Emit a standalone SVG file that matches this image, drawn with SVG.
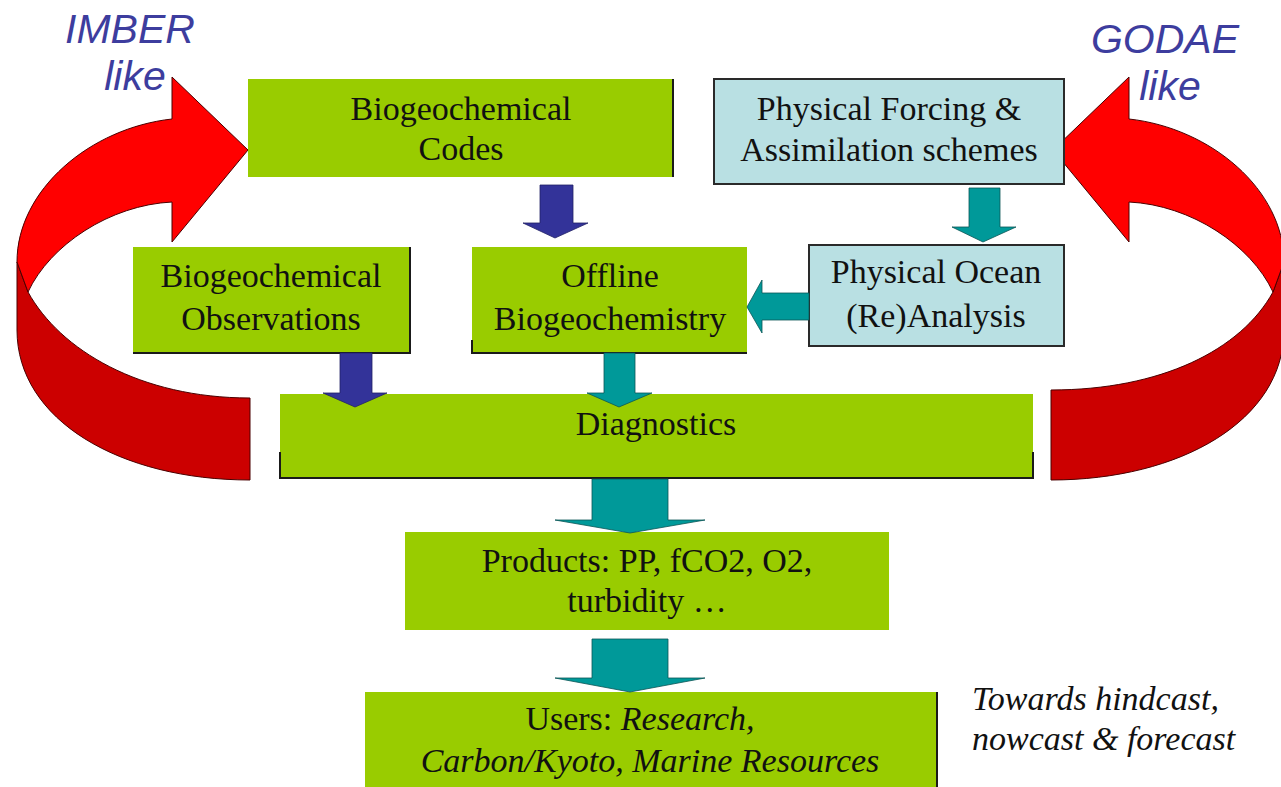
<svg xmlns="http://www.w3.org/2000/svg" width="1281" height="787" viewBox="0 0 1281 787">
<style>
.lbl{font-family:"Liberation Serif","Times New Roman",serif;font-size:34px;fill:#111;text-anchor:middle}
.it{font-style:italic}
.side{font-family:"Liberation Sans",Arial,sans-serif;font-style:italic;font-size:41px;fill:#3d3d9e;text-anchor:middle}
.green{fill:#99cc00}
.blue{fill:#b9e0e3;stroke:#2a2a2a;stroke-width:2}
.edge{fill:none;stroke:#1a1a1a;stroke-width:2}
.ablue{fill:#333399;stroke:#222266;stroke-width:0.8}
.ateal{fill:#009999;stroke:#0b5555;stroke-width:0.8}
.rb{fill:#ff0000;stroke:#4a0000;stroke-width:1}
.rd{fill:#cc0000;stroke:#4a0000;stroke-width:1}
</style>
<rect width="1281" height="787" fill="#ffffff"/>

<g id="loop-imber">
<path class="rd" d="M17,262 L28,292 C60,350 140,398 250,398 L250,480 C120,480 17,420 17,330 Z"/>
<path class="rb" d="M172,119 L172,77 L248,150 L172,242 L172,202 C110,205 50,245 28,292 L17,262 C17,190 90,128 172,119 Z"/>
</g>
<g id="loop-godae">
<path class="rd" d="M1284,262 L1273,292 C1241,350 1161,390 1051,390 L1051,480 C1181,480 1284,420 1284,330 Z"/>
<path class="rb" d="M1129,119 L1129,77 L1053,150 L1129,242 L1129,202 C1191,205 1251,245 1273,292 L1284,262 C1284,190 1211,128 1129,119 Z"/>
</g>

<g id="label-imber">
<text class="side" x="130" y="43">IMBER</text>
<text class="side" x="135" y="90">like</text>
</g>
<g id="label-godae">
<text class="side" x="1165" y="53">GODAE</text>
<text class="side" x="1170" y="100">like</text>
</g>

<g id="node-codes">
<rect class="green" x="248" y="79" width="425" height="98"/>
<path class="edge" d="M673,79 V177"/>
<text class="lbl" x="461" y="120">Biogeochemical</text>
<text class="lbl" x="461" y="160">Codes</text>
</g>

<g id="node-forcing">
<rect class="blue" x="714" y="79" width="350" height="105"/>
<text class="lbl" x="889" y="120">Physical Forcing &amp;</text>
<text class="lbl" x="889" y="161">Assimilation schemes</text>
</g>

<g id="node-obs">
<rect class="green" x="133" y="247" width="277" height="106"/>
<path class="edge" d="M410,247 V353 H133"/>
<text class="lbl" x="271" y="287">Biogeochemical</text>
<text class="lbl" x="271" y="330">Observations</text>
</g>

<g id="node-offline">
<rect class="green" x="472" y="247" width="275" height="106"/>
<path class="edge" d="M472,340 V353 H747"/>
<text class="lbl" x="610" y="287">Offline</text>
<text class="lbl" x="610" y="330">Biogeochemistry</text>
</g>

<g id="node-ocean">
<rect class="blue" x="809" y="245" width="255" height="101"/>
<text class="lbl" x="936" y="283">Physical Ocean</text>
<text class="lbl" x="936" y="327">(Re)Analysis</text>
</g>

<g id="node-diag">
<rect class="green" x="280" y="394" width="753" height="84"/>
<path class="edge" d="M280,452 V478 H1033 V452"/>
<text class="lbl" x="656" y="435">Diagnostics</text>
</g>

<g id="node-products">
<rect class="green" x="405" y="532" width="484" height="98"/>
<text class="lbl" x="647" y="572">Products: PP, fCO2, O2,</text>
<text class="lbl" x="647" y="612">turbidity …</text>
</g>

<g id="node-users">
<rect class="green" x="365" y="692" width="572" height="95"/>
<path class="edge" d="M937,692 V787"/>
<text class="lbl" x="640" y="730">Users: <tspan class="it">Research,</tspan></text>
<text class="lbl it" x="650" y="772">Carbon/Kyoto, Marine Resources</text>
</g>

<g id="note">
<text class="lbl it" x="972" y="710" style="text-anchor:start">Towards hindcast,</text>
<text class="lbl it" x="972" y="750" style="text-anchor:start">nowcast &amp; forecast</text>
</g>

<g id="connectors">
<polygon class="ablue" points="540,185 573,185 573,223 588,223 555,238 523,223 540,223"/>
<polygon class="ateal" points="969,188 1000,188 1000,227 1016,227 983,242 952,227 969,227"/>
<polygon class="ateal" points="809,293 762,293 762,280 747,307 762,333 762,320 809,320"/>
<polygon class="ablue" points="340,353 372,353 372,393 387,393 355,407 323,393 340,393"/>
<polygon class="ateal" points="604,353 635,353 635,393 652,393 619,407 587,393 604,393"/>
<polygon class="ateal" points="592,479 668,479 668,520 705,520 630,533 555,520 592,520"/>
<polygon class="ateal" points="592,639 668,639 668,678 705,678 630,692 555,678 592,678"/>
</g>
</svg>
